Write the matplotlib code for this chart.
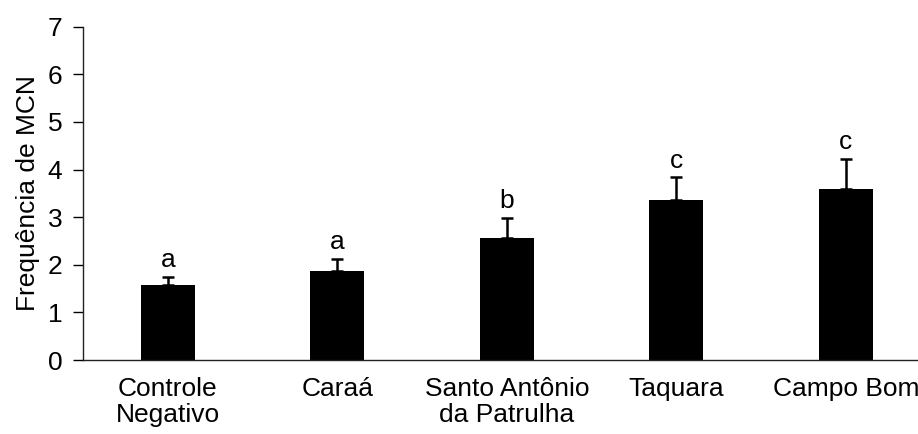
import matplotlib
matplotlib.use("Agg")
import matplotlib.pyplot as plt
import numpy as np

categories = ["Controle\nNegativo", "Caraá", "Santo Antônio\nda Patrulha", "Taquara", "Campo Bom"]
means = [1.58, 1.87, 2.57, 3.35, 3.59]
errors = [0.17, 0.26, 0.42, 0.49, 0.64]
letters = ["a", "a", "b", "c", "c"]
y_ticks = [0, 1, 2, 3, 4, 5, 6, 7]

plt.rcParams['font.family'] = ['Liberation Sans', 'DejaVu Sans']
FS = 19

fig = plt.figure(figsize=(9.18, 4.34), dpi=100)
ax = fig.add_axes([83/918, 1-360/434, 847.5/918, (360-26.7)/434])

x = np.arange(len(categories))
ax.bar(x, means, width=0.32, color="black", zorder=2)
ax.errorbar(x, means, yerr=[np.zeros(len(errors)), errors], fmt="none",
            ecolor="black", elinewidth=1.8, capsize=4.5, capthick=1.8, zorder=3)

for xi, m, e, l in zip(x, means, errors, letters):
    ax.text(xi, m + e + 0.2, l, ha="center", va="baseline", fontsize=FS)

ax.set_xlim(-0.5, 4.5)
ax.set_ylim(0, 7)
ax.set_yticks(y_ticks)
ax.set_yticklabels([str(t) for t in y_ticks], fontsize=FS)
ax.set_xticks(x)
ax.set_xticklabels(categories, fontsize=FS, linespacing=1.13)
ax.tick_params(axis="x", length=0, pad=12)
ax.tick_params(axis="y", length=7, width=1, pad=8, direction="out")
ax.set_ylabel("Frequência de MCN", fontsize=FS, labelpad=5)

for s in ["top", "right"]:
    ax.spines[s].set_visible(False)
for s in ["left", "bottom"]:
    ax.spines[s].set_linewidth(1)
    ax.spines[s].set_color("#222222")

fig.savefig("out.png", dpi=100)
